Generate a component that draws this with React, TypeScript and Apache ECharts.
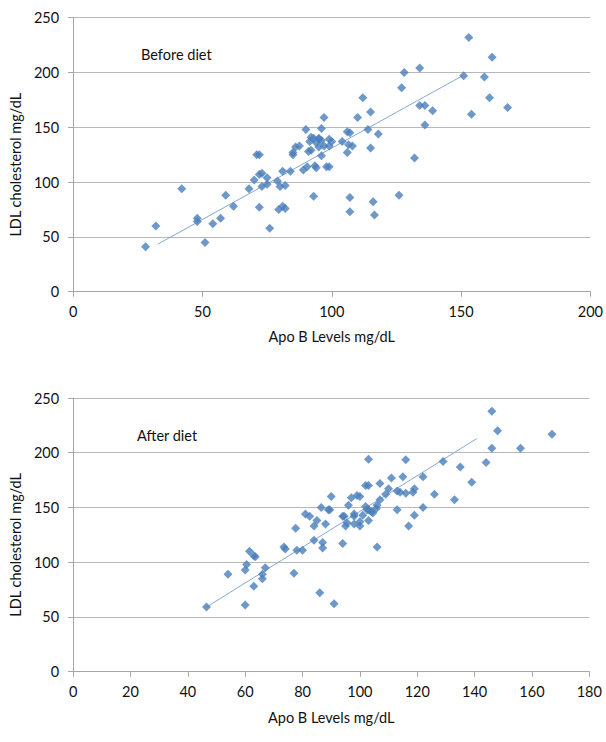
import React, { useEffect, useRef } from "react";
import * as echarts from "echarts";

const beforeData: number[][] = [
  [28, 41], [32, 60], [42, 94], [48, 67], [48, 64], [51, 45], [54, 62], [57, 67], [59, 88], [62, 78],
  [68, 94], [70, 102], [71, 125], [72, 125], [72, 107], [73, 108], [72, 77], [73, 96], [75, 98], [75, 104],
  [76, 58], [79, 101], [79.5, 75], [80, 96], [81, 110], [81, 78], [82, 97], [82, 76], [84, 110], [85, 127],
  [85, 125], [86, 132], [89, 111], [90, 148], [90.5, 114], [91, 128], [91.5, 137], [92, 141], [93, 140], [93, 87],
  [93.5, 115], [94, 113], [95, 132], [95, 139], [96, 124], [96, 149], [97, 159], [95, 140], [96, 138], [94, 136],
  [97, 133], [99, 133], [92, 129], [87.5, 133], [98, 114], [99, 114], [99, 139], [100, 137], [104, 137], [106, 146],
  [107, 145], [118, 144], [106, 127], [106.5, 134], [108, 133], [115, 131], [132, 122], [107, 86], [107, 73], [116, 82],
  [116.5, 70], [126, 88], [110, 159], [114, 148], [115, 164], [112, 177], [127, 186], [128, 200], [134, 204], [134, 170],
  [136, 170], [139, 165], [136, 152], [153, 232], [162, 214], [151, 197], [159, 196], [161, 177], [154, 162], [168, 168],
];

const afterData: number[][] = [
  [46.5, 59], [54, 89], [60, 61], [60, 93], [60.5, 98], [61.5, 110], [63, 78], [63, 106], [63.5, 105], [66, 85],
  [66, 89], [67, 95], [73.5, 114], [74, 112], [77, 90], [77.6, 131], [78, 111], [80, 111], [81, 144], [82.5, 142],
  [84, 120], [84, 133], [85, 138], [86, 72], [86.5, 150], [87, 118], [87, 113], [88, 135], [89, 148], [89.5, 148],
  [90, 160], [91, 62], [146, 238], [148, 220], [167, 217], [146, 204], [156, 204], [144, 191], [129, 192], [135, 187],
  [139, 173], [133, 157], [126, 162], [122, 178], [122, 150], [119, 167], [118.5, 164], [119, 143], [117, 133], [116, 193.5],
  [115, 178], [116, 163], [113, 165], [114, 164], [113, 148], [111, 177], [110, 167], [109, 162], [107, 172], [107, 157],
  [106, 152], [105.7, 149], [104.5, 145], [104, 146], [103, 148], [103, 194], [102, 170], [103, 170], [102, 151], [102.5, 148],
  [103, 138], [101, 143], [100, 137], [100, 133], [100, 160], [99, 161], [97, 159], [96, 152], [98, 142], [98, 144],
  [98, 135], [95, 133], [94.5, 142], [94, 142], [95.5, 136], [94, 117], [106, 114],
];

const trendBefore: number[][] = [[32.7, 43.3], [150.7, 197.2]];
const trendAfter: number[][] = [[46.5, 59], [140.8, 213]];

const xTitle = "Apo B Levels mg/dL";
const yTitle = "LDL cholesterol mg/dL";
const labelBefore = "Before diet";
const labelAfter = "After diet";

const FONT = "Lato, 'Open Sans', sans-serif";
const TEXT = "#111111";
const AXIS = "#a6a6a6";
const GRID = "#b8b8b8";
const MARK = "#4a7ebb";
const TREND = "#86a8d4";

function xAxisFor(gridIndex: number, max: number, interval: number, margin: number, nameGap: number) {
  return {
    type: "value",
    gridIndex,
    min: 0,
    max,
    interval,
    name: xTitle,
    nameLocation: "middle",
    nameGap,
    nameTextStyle: { fontFamily: FONT, fontSize: 14.5, color: TEXT },
    axisLine: { show: true, lineStyle: { color: AXIS, width: 1 } },
    axisTick: { show: true, length: 5, lineStyle: { color: AXIS } },
    axisLabel: { margin, fontFamily: FONT, fontSize: 14.5, color: TEXT },
    splitLine: { show: false },
  };
}

function yAxisFor(gridIndex: number, nameGap: number) {
  return {
    type: "value",
    gridIndex,
    min: 0,
    max: 250,
    interval: 50,
    name: yTitle,
    nameLocation: "middle",
    nameGap,
    nameRotate: 90,
    nameTextStyle: { fontFamily: FONT, fontSize: 14.5, color: TEXT, padding: [0, 20, 0, 0] },
    axisLine: { show: true, lineStyle: { color: AXIS, width: 1 } },
    axisTick: { show: true, length: 5, lineStyle: { color: AXIS } },
    axisLabel: { margin: 14, fontFamily: FONT, fontSize: 14.5, color: TEXT },
    splitLine: { show: true, lineStyle: { color: GRID, width: 1 } },
  };
}

function scatter(idx: number, data: number[][]) {
  return {
    type: "scatter",
    xAxisIndex: idx,
    yAxisIndex: idx,
    data,
    symbol: "diamond",
    symbolSize: 9,
    itemStyle: { color: MARK },
    z: 3,
  };
}

function trend(idx: number, data: number[][]) {
  return {
    type: "line",
    xAxisIndex: idx,
    yAxisIndex: idx,
    data,
    symbol: "none",
    lineStyle: { color: TREND, width: 1 },
    z: 2,
  };
}

export default function App() {
  const ref = useRef<HTMLDivElement>(null);
  useEffect(() => {
    if (!ref.current) return;
    const chart = echarts.init(ref.current, null, { renderer: "svg" });
    chart.setOption({
      animation: false,
      backgroundColor: "#ffffff",
      grid: [
        { left: 71.5, top: 17.7, width: 522.5, height: 274 },
        { left: 67.4, top: 398, width: 521.9, height: 273.7 },
      ],
      xAxis: [xAxisFor(0, 200, 50, 12, 37), xAxisFor(1, 180, 20, 12, 38)],
      yAxis: [yAxisFor(0, 50), yAxisFor(1, 46)],
      series: [
        scatter(0, beforeData),
        trend(0, trendBefore),
        scatter(1, afterData),
        trend(1, trendAfter),
      ],
      graphic: [
        {
          type: "text",
          x: 141,
          y: 54.5,
          style: { text: labelBefore, fontFamily: FONT, fontSize: 14.5, fill: TEXT, textVerticalAlign: "middle" },
        },
        {
          type: "text",
          x: 137,
          y: 435.5,
          style: { text: labelAfter, fontFamily: FONT, fontSize: 14.5, fill: TEXT, textVerticalAlign: "middle" },
        },
      ],
    });
    return () => chart.dispose();
  }, []);
  return (
    <div
      ref={ref}
      style={{ position: "fixed", left: 0, top: 0, width: 606, height: 742 }}
    />
  );
}
